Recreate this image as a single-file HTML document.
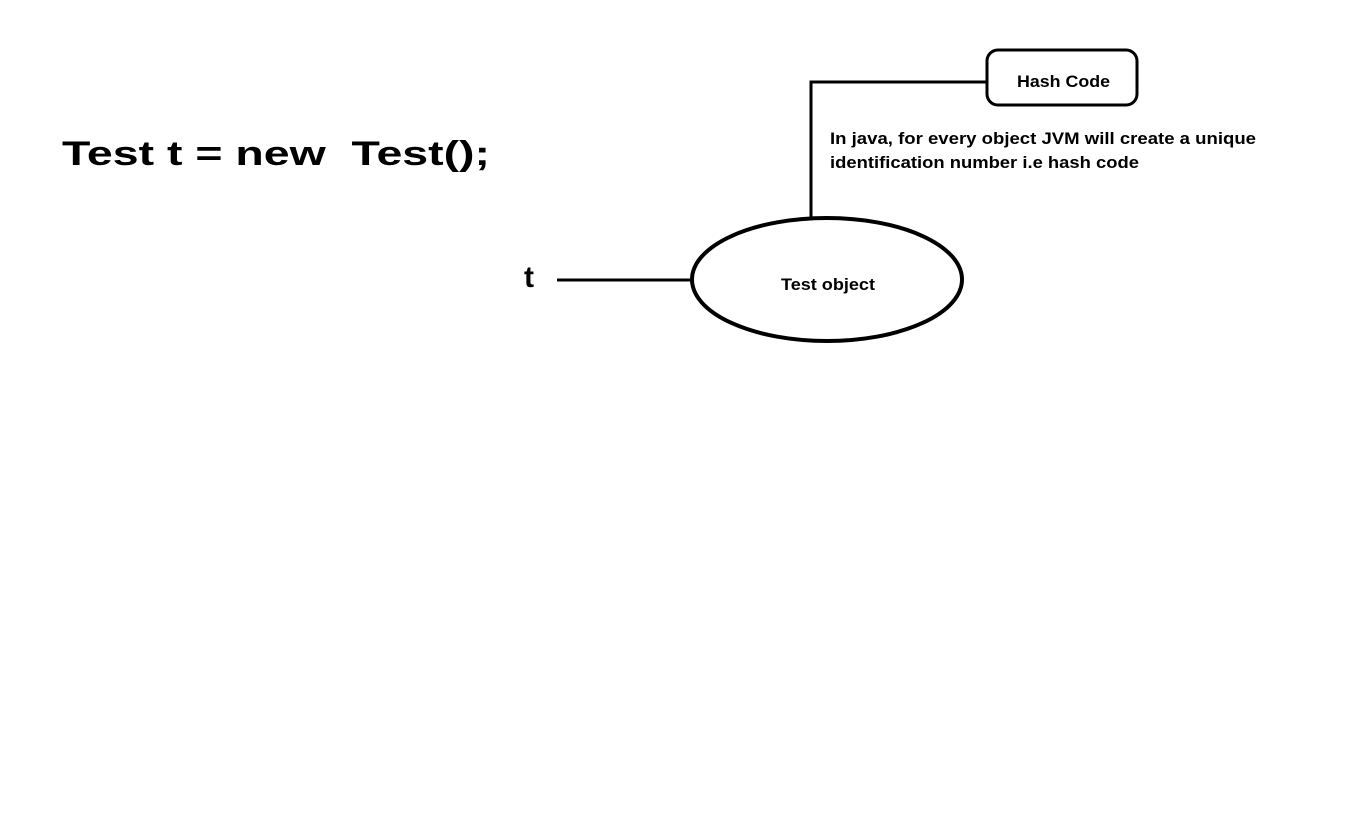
<!DOCTYPE html>
<html><head><meta charset="utf-8"><style>html,body{margin:0;padding:0;background:#fff;}svg{display:block}</style></head>
<body>
<svg width="1358" height="831" viewBox="0 0 1358 831" xmlns="http://www.w3.org/2000/svg" font-family="Liberation Sans, sans-serif" font-weight="bold">
<rect width="1358" height="831" fill="#fff"/>
<text x="62" y="165" font-size="34" textLength="428" lengthAdjust="spacingAndGlyphs">Test t = new&#160; Test();</text>
<text x="524" y="287" font-size="30">t</text>
<line x1="557" y1="280" x2="692" y2="280" stroke="#000" stroke-width="3"/>
<ellipse cx="827" cy="279.5" rx="135" ry="61.5" fill="none" stroke="#000" stroke-width="4"/>
<text x="781" y="290" font-size="17" textLength="94" lengthAdjust="spacingAndGlyphs">Test object</text>
<polyline points="811,217 811,82 990,82" fill="none" stroke="#000" stroke-width="3"/>
<rect x="987" y="50" width="150" height="55" rx="11" fill="#fff" stroke="#000" stroke-width="3"/>
<text x="1017" y="87" font-size="17" textLength="93" lengthAdjust="spacingAndGlyphs">Hash Code</text>
<text x="830" y="144" font-size="17" textLength="426" lengthAdjust="spacingAndGlyphs">In java, for every object JVM will create a unique</text>
<text x="830" y="168" font-size="17" textLength="309" lengthAdjust="spacingAndGlyphs">identification number i.e hash code</text>
</svg>
</body></html>
